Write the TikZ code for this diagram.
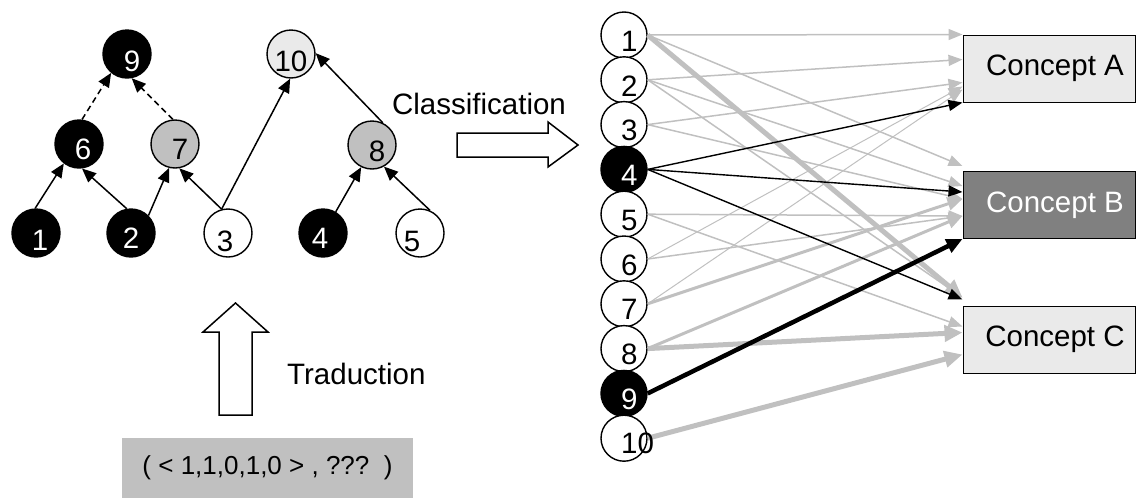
\documentclass[tikz,border=0pt]{standalone}
\usepackage{fontspec}
\setmainfont{Liberation Sans}
\usetikzlibrary{arrows.meta,calc}
\definecolor{lg}{HTML}{C0C0C0}
\definecolor{vlg}{HTML}{EAEAEA}
\definecolor{dg}{HTML}{808080}
\begin{document}
\begin{tikzpicture}[x=1pt,y=-1pt,
  font=\fontsize{29.5}{30}\selectfont,
  tn/.style={circle,draw,line width=1.4pt,minimum size=48pt,inner sep=0pt},
  bn/.style={circle,draw,line width=1.4pt,fill=white,minimum size=46pt,inner sep=0pt},
  dig/.style={inner sep=0pt},
  tedge/.style={line width=1.5pt,-{Triangle[length=14pt,width=12pt]}},
  cbox/.style={rectangle,draw,line width=1pt,minimum width=172pt,minimum height=67pt,inner sep=0pt},
  gvthin/.style={lg,line width=1pt,-{Triangle[length=14pt,width=11pt]}},
  gthin/.style={lg,line width=1.5pt,-{Triangle[length=14pt,width=11pt]}},
  gmed/.style={lg,line width=3pt,-{Triangle[length=15pt,width=13pt]}},
  gthick/.style={lg,line width=5pt,-{Triangle[length=18pt,width=16pt]}},
  bthin/.style={black,line width=1.4pt,-{Triangle[length=14pt,width=11pt]}},
  bthick/.style={black,line width=4.5pt,-{Triangle[length=16pt,width=14pt]}},
  blockarrow/.style={draw,line width=1.5pt,fill=white,line join=miter}
]
\useasboundingbox (0,0) rectangle (1138,501);

% ---- lattice of attributes ----
\node[tn,fill=black] (t9)  at (127,54)  {};
\node[tn,fill=vlg]   (t10) at (291,54)  {};
\node[tn,fill=black] (t6)  at (79,144)  {};
\node[tn,fill=lg]    (t7)  at (175,144) {};
\node[tn,fill=lg]    (t8)  at (372,145) {};
\node[tn,fill=black] (t1)  at (36,233)  {};
\node[tn,fill=black] (t2)  at (131,233) {};
\node[tn,fill=white] (t3)  at (228,233) {};
\node[tn,fill=black] (t4)  at (323,233) {};
\node[tn,fill=white] (t5)  at (420,233) {};

\node[dig,text=white] (td9)  at ($(t9)+(5,7)$)  {9};
\node[dig]            (td10) at ($(t10)+(0,7)$) {10};
\node[dig,text=white] (td6)  at ($(t6)+(4,5)$)  {6};
\node[dig]            (td7)  at ($(t7)+(5,5)$)  {7};
\node[dig]            (td8)  at ($(t8)+(5,6)$)  {8};
\node[dig,text=white] (td1)  at ($(t1)+(4,7)$)  {1};
\node[dig,text=white] (td2)  at ($(t2)+(0,5)$)  {2};
\node[dig]            (td3)  at ($(t3)+(-3,8)$) {3};
\node[dig,text=white] (td4)  at ($(t4)+(-3,5)$) {4};
\node[dig]            (td5)  at ($(t5)+(-8,8)$) {5};

\draw[tedge] (t1.92)  -- (t6.232);
\draw[tedge] (t2.100) -- (t6.277);
\draw[tedge] (t2.45)  -- (t7.256);
\draw[tedge] (t3.105) -- (t7.280);
\draw[tedge] (t3.105) -- (t10.268);
\draw[tedge,dashed,dash pattern=on 6pt off 4pt] (t6.83) -- (t9.230);
\draw[tedge,dashed,dash pattern=on 6pt off 4pt] (t7.95) -- (t9.281);
\draw[tedge] (t4.59)  -- (t8.244);
\draw[tedge] (t5.66)  -- (t8.299);
\draw[tedge] (t8.64)  -- (t10.2);

% ---- block arrows and captions ----
\draw[blockarrow] (457,133) -- (548,133) -- (548,122) -- (578,145) -- (548,167) -- (548,157) -- (457,157) -- cycle;
\draw[blockarrow] (219,415) -- (219,332) -- (203,332) -- (235.5,303) -- (268,332) -- (252,332) -- (252,415) -- cycle;
\node[inner sep=0pt] (cls) at (479,104) {Classification};
\node[inner sep=0pt,anchor=west] (trd) at (287,374) {Traduction};
\node[fill=lg,minimum width=291pt,minimum height=60pt,inner sep=0pt,
      font=\fontsize{26}{28}\selectfont] (vec) at (267.5,467.5) {(\ <\ 1,1,0,1,0\ >\ ,\ ???\ \ )};

% ---- concepts ----
\node[cbox,fill=vlg] (A) at (1049,68.5) {\hspace{12pt}Concept A};
\node[cbox,fill=dg,text=white] (B) at (1049,205) {\hspace{12pt}Concept B};
\node[cbox,fill=vlg] (C) at (1049,339.5) {\hspace{12pt}Concept C};

% ---- attribute column ----
\node[bn] (b1) at (624,35) {};
\node[bn] (b2) at (624,79.8) {};
\node[bn] (b3) at (624,124.6) {};
\node[bn,fill=black] (b4) at (624,169.4) {};
\node[bn] (b5) at (624,214.2) {};
\node[bn] (b6) at (624,259) {};
\node[bn] (b7) at (624,303.8) {};
\node[bn] (b8) at (624,348.6) {};
\node[bn,fill=black] (b9) at (624,393.4) {};
\node[bn] (b10) at (624,438.2) {};

% ---- weighted links (grey first, black on top) ----
\draw[gthin]  (b1.east) -- (A.north west);
\draw[gthin]  (b1.east) -- ($(B.north west)+(0,-5)$);
\draw[gthick] (b1.east) -- ($(C.north west)+(0,-8)$);
\draw[gthin]  (b2.east) -- ($(A.north west)+(0,25)$);
\draw[gthin]  (b2.east) -- ($(B.north west)+(0,15)$);
\draw[gthin]  (b2.east) -- ($(C.north west)+(0,-8)$);
\draw[gthin]  (b3.east) -- ($(A.north west)+(0,48)$);
\draw[gthin]  (b3.east) -- ($(B.north west)+(0,28)$);
\draw[gthin]  (b5.east) -- ($(B.north west)+(0,45)$);
\draw[gthin]  (b5.east) -- ($(C.north west)+(0,21)$);
\draw[gvthin] (b6.east) -- ($(A.north west)+(0,52)$);
\draw[gthin]  (b6.east) -- ($(B.north west)+(0,45)$);
\draw[gvthin] (b7.east) -- ($(A.north west)+(0,55)$);
\draw[gmed]   (b7.east) -- ($(B.north west)+(0,28)$);
\draw[gmed]   (b8.east) -- ($(B.north west)+(0,45)$);
\draw[gthick] (b8.east) -- ($(C.north west)+(0,27)$);
\draw[gthick] (b10.east) -- ($(C.north west)+(0,49)$);
\draw[bthin]  (b4.east) -- (A.south west);
\draw[bthin]  (b4.east) -- ($(B.north west)+(0,21)$);
\draw[bthin]  (b4.east) -- ($(C.north west)+(0,-6)$);
\draw[bthick] (b9.east) -- (B.south west);

\node[dig,anchor=west] (bd1)  at ($(b1)+(-3,6)$)  {1};
\node[dig,anchor=west] (bd2)  at ($(b2)+(-3,6)$)  {2};
\node[dig,anchor=west] (bd3)  at ($(b3)+(-3,6)$)  {3};
\node[dig,anchor=west,text=white] (bd4) at ($(b4)+(-3,6)$) {4};
\node[dig,anchor=west] (bd5)  at ($(b5)+(-3,6)$)  {5};
\node[dig,anchor=west] (bd6)  at ($(b6)+(-3,6)$)  {6};
\node[dig,anchor=west] (bd7)  at ($(b7)+(-3,6)$)  {7};
\node[dig,anchor=west] (bd8)  at ($(b8)+(-3,6)$)  {8};
\node[dig,anchor=west,text=white] (bd9) at ($(b9)+(-3,6)$) {9};
\node[dig,anchor=west] (bd10) at ($(b10)+(-3,5)$) {10};
\end{tikzpicture}
\end{document}
